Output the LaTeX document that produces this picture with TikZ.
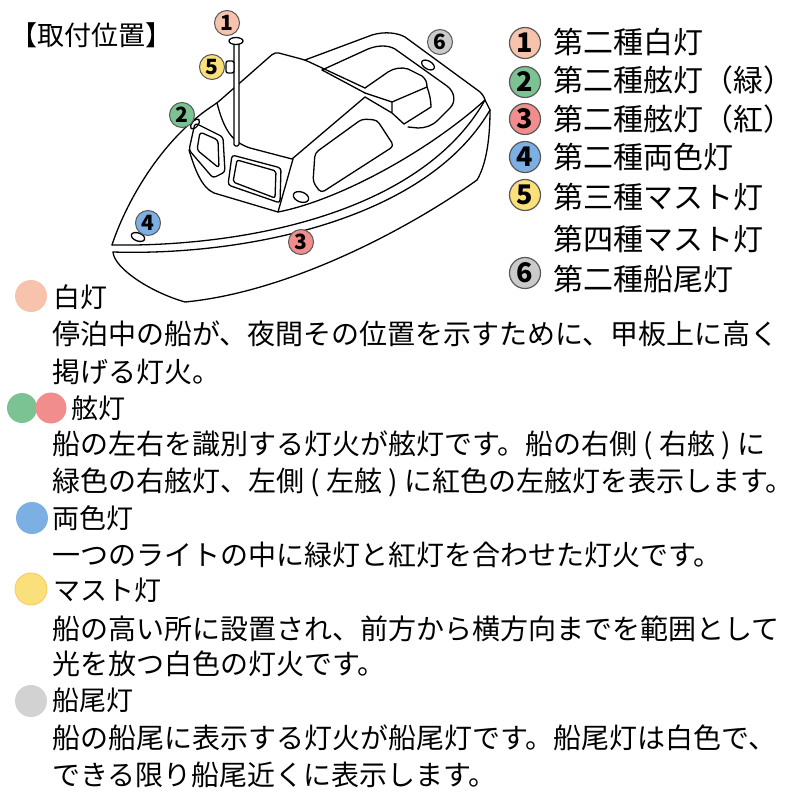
\documentclass[tikz,border=0pt]{standalone}
\usepackage{fontspec}
\setmainfont{Noto Sans CJK JP}
\definecolor{lampwhite}{HTML}{F7C3AD}
\definecolor{lampgreen}{HTML}{7BC392}
\definecolor{lampred}{HTML}{F28D8D}
\definecolor{lampblue}{HTML}{7CAFE4}
\definecolor{lampyellow}{HTML}{F9E07A}
\definecolor{lampgray}{HTML}{CACACA}
\begin{document}
\begin{tikzpicture}[x=1pt, y=-1pt,
  boatline/.style={line width=1.3pt, line join=round, line cap=round},
  boatnum/.style={circle, draw=black!65, line width=1pt, inner sep=0pt, minimum size=25pt, font=\fontsize{21}{21}\selectfont\bfseries},
  legnum/.style={circle, draw=black!65, line width=1.2pt, inner sep=0pt, minimum size=31pt, font=\fontsize{27}{27}\selectfont\bfseries},
  legtext/.style={anchor=west, inner sep=0pt, font=\fontsize{30}{30}\selectfont},
  dot/.style={circle, inner sep=0pt, minimum size=32pt},
  head/.style={anchor=west, inner sep=0pt, font=\fontsize{27}{27}\selectfont},
  body/.style={anchor=west, inner sep=0pt, font=\fontsize{28}{28}\selectfont}]
\useasboundingbox (0,0) rectangle (800,800);

\node [anchor=west, inner sep=0pt, font=\fontsize{27}{27}\selectfont] (title) at (10,35) {【取付位置】};

% boat
\begin{scope}[boatline]
\draw (113,252) .. controls (114,268) and (150,292) .. (185,302) .. controls (290,292) and (410,228) .. (477,180) .. controls (486,165) and (490,140) .. (490,110);
\draw (112,245) .. controls (240,247) and (420,215) .. (485,100) -- (490,110);
\draw (113,252) .. controls (240,256) and (425,222) .. (490,110);
\draw [rounded corners=4pt] (112,245) .. controls (125,205) and (160,140) .. (217,103) -- (275,52) -- (305,60) -- (365,88);
\draw (305,60) -- (372,35) .. controls (385,31) and (398,33) .. (405,37) -- (476,89) .. controls (481,92) and (484,96) .. (485,100);
\draw (217,103) .. controls (224,130) and (232,142) .. (250,148) -- (292,159) -- (365,97);
\draw (322,70) -- (365,93);
\draw (322,70) -- (368,49) .. controls (378,45) and (388,45) .. (395,49) -- (447,86) .. controls (455,92) and (456,102) .. (450,108) -- (438,120) .. controls (432,126) and (425,128) .. (418,128) -- (408,127);
% engine box
\draw (365,88) -- (388,72) .. controls (394,68) and (402,67) .. (408,69) -- (422,76) .. controls (426,79) and (427,83) .. (427,87) -- (392,102) -- (365,93);
\draw (392,102) -- (392,113) (365,97) -- (392,113) -- (404,124);
\draw (427,87) .. controls (430,95) and (431,102) .. (431,107) -- (404,124);
% cabin
\draw [rounded corners=3pt] (195,123) -- (223,137) -- (225,172) -- (213,178) -- (189,150) -- cycle;
\draw [rounded corners=3pt] (200,132) -- (218,140) -- (219,168) -- (197,150) -- cycle;
\draw [rounded corners=3pt] (232,155) -- (281,168) -- (280,203) -- (228,185) -- cycle;
\draw [rounded corners=2pt] (237,160) -- (276,171) -- (275,198) -- (233,182) -- cycle;
\draw (189,150) .. controls (195,170) and (202,188) .. (214,193) -- (278,212) (293,159) -- (278,212);
\draw (278,212) .. controls (340,200) and (430,150) .. (485,100);
\draw [rounded corners=4pt] (315,153) -- (362,119) -- (377,120) -- (394,146) -- (321,193) -- (313,182) -- cycle;
% lamps
\draw [rotate around={-20:(301,197)}] (301,197) ellipse [x radius=8, y radius=5];
\draw [rotate around={-20:(138,237)}] (138,237) ellipse [x radius=7, y radius=4];
\draw [rotate around={-30:(428,65)}] (428,65) ellipse [x radius=7, y radius=4];
\draw [rotate around={50:(195,124)}] (195,124) ellipse [x radius=6, y radius=3];
\draw [fill=white, rounded corners=1.5pt] (234,43) rectangle (239,146);
\draw [fill=white, rounded corners=2pt] (226,61) rectangle (234,73);
\draw [fill=white] (236,41) ellipse [x radius=7, y radius=3.5];
\end{scope}

\foreach \n/\x/\y/\c in {1/227/23/lampwhite, 2/182/115/lampgreen, 3/301/242/lampred, 4/148/223/lampblue, 5/212/67/lampyellow, 6/440/42/lampgray}
\node [boatnum, fill=\c] (tag\n) at (\x,\y) {\n};

% legend
\foreach \n/\y/\c in {1/43/lampwhite, 2/82/lampgreen, 3/119/lampred, 4/157/lampblue, 5/195/lampyellow, 6/273/lampgray}
\node [legnum, fill=\c] (key\n) at (525,\y) {\n};
\foreach \y/\t [count=\i] in {42/第二種白灯, 80/第二種舷灯（緑）, 119/第二種舷灯（紅）, 157/第二種両色灯, 197/第三種マスト灯, 239/第四種マスト灯, 279/第二種船尾灯}
\node [legtext] (leg\i) at (553,\y) {\t};

% notes
\node [dot, fill=lampwhite] (dotw) at (31,296) {};
\node [dot, fill=lampgreen, minimum size=30pt] (dotg) at (22,408) {};
\node [dot, fill=lampred, minimum size=31pt] (dotr) at (51,408) {};
\node [dot, fill=lampblue] (dotb) at (32,518) {};
\node [dot, fill=lampyellow, draw=lampyellow!75!orange, line width=0.8pt] (doty) at (31,589) {};
\node [dot, fill=lampgray!85] (dotk) at (31,701) {};

\foreach \x/\y/\t [count=\i] in {53/297/白灯, 71/408/舷灯, 52/518/両色灯, 53/590/マスト灯, 52/700/船尾灯}
\node [head] (head\i) at (\x,\y) {\t};

\foreach \y/\t [count=\i] in {334/停泊中の船が、夜間その位置を示すために、甲板上に高く, 372/掲げる灯火。, 445/船の左右を識別する灯火が舷灯です。船の右側 ( 右舷 ) に, 482/緑色の右舷灯、左側 ( 左舷 ) に紅色の左舷灯を表示します。, 555/一つのライトの中に緑灯と紅灯を合わせた灯火です。, 629/船の高い所に設置され、前方から横方向までを範囲として, 664/光を放つ白色の灯火です。, 738/船の船尾に表示する灯火が船尾灯です。船尾灯は白色で、, 775/できる限り船尾近くに表示します。}
\node [body] (body\i) at (52,\y) {\t};
\end{tikzpicture}
\end{document}
